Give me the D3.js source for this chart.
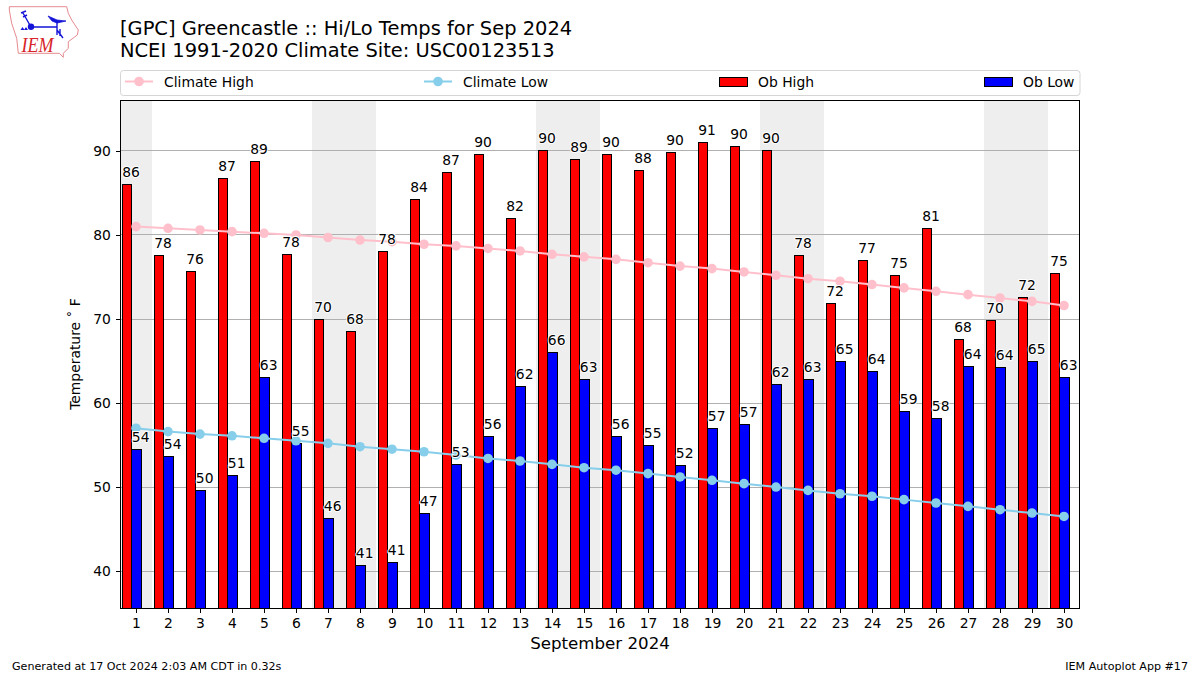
<!DOCTYPE html>
<html><head><meta charset="utf-8">
<script src="https://cdnjs.cloudflare.com/ajax/libs/d3/7.8.5/d3.min.js"></script>
<style>html,body{margin:0;padding:0;background:#fff}svg{display:block}text{font-family:"DejaVu Sans",sans-serif;fill:#000}</style>
</head><body><svg id="c" width="1200" height="675"></svg>
<script>
const days=d3.range(1,31);
const obHigh=[86,77.6,75.7,86.7,88.7,77.7,70,68.5,78,84.2,87.4,89.6,82,90,89,89.6,87.7,89.8,91,90.5,90,77.6,71.8,77,75.2,80.8,67.6,69.8,72.6,75.4];
const obLow=[54.5,53.6,49.6,51.4,63,55.2,46.3,40.7,41,46.9,52.7,56,62,66,62.8,56,55,52.6,57,57.4,62.2,62.8,65,63.7,59,58.2,64.4,64.2,65,63];
const highLabels=[86,78,76,87,89,78,70,68,78,84,87,90,82,90,89,90,88,90,91,90,90,78,72,77,75,81,68,70,72,75];
const lowLabels=[54,54,50,51,63,55,46,41,41,47,53,56,62,66,63,56,55,52,57,57,62,63,65,64,59,58,64,64,65,63];
const climHigh=[81,80.8,80.6,80.4,80.2,80,79.7,79.4,79.2,78.9,78.7,78.4,78.1,77.7,77.4,77.1,76.7,76.3,76,75.6,75.2,74.8,74.5,74.1,73.7,73.3,72.9,72.5,72.1,71.6];
const climLow=[57,56.6,56.3,56.1,55.8,55.5,55.2,54.8,54.5,54.2,53.8,53.4,53.1,52.7,52.3,52,51.6,51.2,50.8,50.4,50,49.6,49.2,48.9,48.5,48.1,47.7,47.3,46.9,46.5];
const weekends=[[0.5,1.5],[6.5,8.5],[13.5,15.5],[20.5,22.5],[27.5,29.5]];
const yTicks=[40,50,60,70,80,90];
const legendItems=["Climate High","Climate Low","Ob High","Ob Low"];
const titleLines=["[GPC] Greencastle :: Hi/Lo Temps for Sep 2024","NCEI 1991-2020 Climate Site: USC00123513"];

const L=120.5,R=1079.5,T=100.5,B=608.5;
const x=d3.scaleLinear().domain([0.515,30.485]).range([L,R]);
const y=d3.scaleLinear().domain([35.54,96.01]).range([B,T]);
const unit=x(1)-x(0);
const svg=d3.select("#c");

// logo
const logo=svg.append("g");
logo.append("path").attr("d","M9.3,6.7 L66.7,6.7 L68.3,13.3 L71.7,20 L78.3,30 L77.3,35 L68.3,41.7 L68.3,48.3 L63.3,53.3 L63.3,57.3 L59.3,53.3 L18.3,53.3 L16.7,38.3 L11.7,23.3 L9.3,10 Z").attr("fill","#fff").attr("stroke","#e58a90").attr("stroke-width",1);
const bl=logo.append("g").attr("fill","none").attr("stroke","#1414d8");
bl.append("path").attr("d","M31,27 H57 M57,20 V35 M31,27 L23,13 M21,13 L26,11 M23,17 L27,15 M57,30 L63,38 M60,29 V36").attr("stroke-width",1.4);
bl.append("path").attr("d","M48,16 L57,20 L66,21 L57,23 L52,21 Z").attr("fill","#1414d8").attr("stroke-width",0.8);
logo.append("circle").attr("cx",31).attr("cy",26.7).attr("r",3.2).attr("fill","#1414d8");
logo.append("path").attr("d","M22.5,28 L24.5,31 L20.5,31 Z M26,28 L28,31 L24,31 Z").attr("fill","#1414d8").attr("transform","translate(0,-1)");
logo.append("text").attr("x",21.5).attr("y",51.7).attr("font-size",22).attr("font-style","italic").attr("textLength",32).attr("lengthAdjust","spacingAndGlyphs").style("font-family","'Liberation Serif',serif").style("fill","#d8232a").text("IEM");

// titles
titleLines.forEach((t,i)=>svg.append("text").attr("x",120).attr("y",35+i*22).attr("font-size",19.44).text(t));

// legend
svg.append("rect").attr("x",120.5).attr("y",70.5).attr("width",959.5).attr("height",25).attr("rx",3).attr("fill","#fff").attr("stroke","#d5d5d5");
const legX=[125,424,719,984];
const legTextX=[164,463,758,1023];
legendItems.forEach((t,i)=>{
  const g=svg.append("g");
  if(i<2){const c=i==0?"pink":"skyblue";
    g.append("line").attr("x1",legX[i]).attr("x2",legX[i]+28).attr("y1",81.5).attr("y2",81.5).attr("stroke",c).attr("stroke-width",2);
    g.append("circle").attr("cx",legX[i]+14).attr("cy",81.5).attr("r",4.8).attr("fill",c);
  } else {
    g.append("rect").attr("x",legX[i]).attr("y",77).attr("width",28).attr("height",9.7).attr("fill",i==2?"red":"blue").attr("stroke","#000").attr("stroke-width",1).attr("shape-rendering","crispEdges");
  }
  g.append("text").attr("x",legTextX[i]).attr("y",86.5).attr("font-size",13.89).text(t);
});

// plot
const plot=svg.append("g");
plot.selectAll(".wk").data(weekends).join("rect").attr("x",d=>Math.max(x(d[0]),L)).attr("width",d=>x(d[1])-Math.max(x(d[0]),L)).attr("y",T).attr("height",B-T).attr("fill","#eeeeee");
plot.selectAll(".gr").data(yTicks).join("line").attr("x1",L).attr("x2",R).attr("y1",d=>y(d)).attr("y2",d=>y(d)).attr("stroke","#b0b0b0").attr("stroke-width",1).attr("shape-rendering","crispEdges");
const bw=0.3*unit;
const hx=d=>x(d)-0.43*unit, lx=d=>x(d)-0.13*unit;
plot.selectAll(".hi").data(days).join("rect").attr("x",d=>hx(d)).attr("width",bw).attr("y",(d,i)=>y(obHigh[i])).attr("height",(d,i)=>B-y(obHigh[i])).attr("fill","red").attr("stroke","#000").attr("stroke-width",1).attr("shape-rendering","crispEdges");
plot.selectAll(".lo").data(days).join("rect").attr("x",d=>lx(d)).attr("width",bw).attr("y",(d,i)=>y(obLow[i])).attr("height",(d,i)=>B-y(obLow[i])).attr("fill","blue").attr("stroke","#000").attr("stroke-width",1).attr("shape-rendering","crispEdges");

[[climHigh,"pink"],[climLow,"skyblue"]].forEach(([vals,c])=>{
  plot.append("path").datum(vals).attr("d",d3.line().x((v,i)=>x(days[i])).y(v=>y(v))).attr("fill","none").attr("stroke",c).attr("stroke-width",2);
  plot.selectAll(null).data(vals).join("circle").attr("cx",(v,i)=>x(days[i])).attr("cy",v=>y(v)).attr("r",4.8).attr("fill",c);
});

const lab=(labels,vals,xf)=>plot.selectAll(null).data(labels).join("text")
  .attr("x",(v,i)=>xf(days[i])).attr("y",(v,i)=>y(vals[i])-7.5)
  .attr("font-size",13.89).attr("stroke","#fff").attr("stroke-width",2).attr("paint-order","stroke").text(v=>v);
lab(highLabels,obHigh,hx);
lab(lowLabels,obLow,lx);

// axes
const xa=d3.axisBottom(x).tickValues(days).tickSize(4.86).tickPadding(4.86).tickFormat(d3.format("d"));
const ya=d3.axisLeft(y).tickValues(yTicks).tickSize(4.86).tickPadding(4.86);
const gx=svg.append("g").attr("transform",`translate(0,${B})`).call(xa);
const gy=svg.append("g").attr("transform",`translate(${L},0)`).call(ya);
[gx,gy].forEach(g=>{g.select(".domain").remove();g.selectAll("text").attr("font-size",13.89).style("font-family","'DejaVu Sans',sans-serif").style("fill","#000");g.selectAll("line").attr("stroke","#000").attr("stroke-width",1).attr("shape-rendering","crispEdges")});
svg.append("rect").attr("x",L).attr("y",T).attr("width",R-L).attr("height",B-T).attr("fill","none").attr("stroke","#000").attr("stroke-width",1).attr("shape-rendering","crispEdges");

svg.append("text").attr("x",600).attr("y",649).attr("text-anchor","middle").attr("font-size",16.67).text("September 2024");
svg.append("text").attr("transform","translate(80,354) rotate(-90)").attr("text-anchor","middle").attr("font-size",13.89).text("Temperature \u02da F");
svg.append("text").attr("x",12).attr("y",670).attr("font-size",11.11).text("Generated at 17 Oct 2024 2:03 AM CDT in 0.32s");
svg.append("text").attr("x",1188).attr("y",670).attr("text-anchor","end").attr("font-size",11.11).text("IEM Autoplot App #17");
</script></body></html>
